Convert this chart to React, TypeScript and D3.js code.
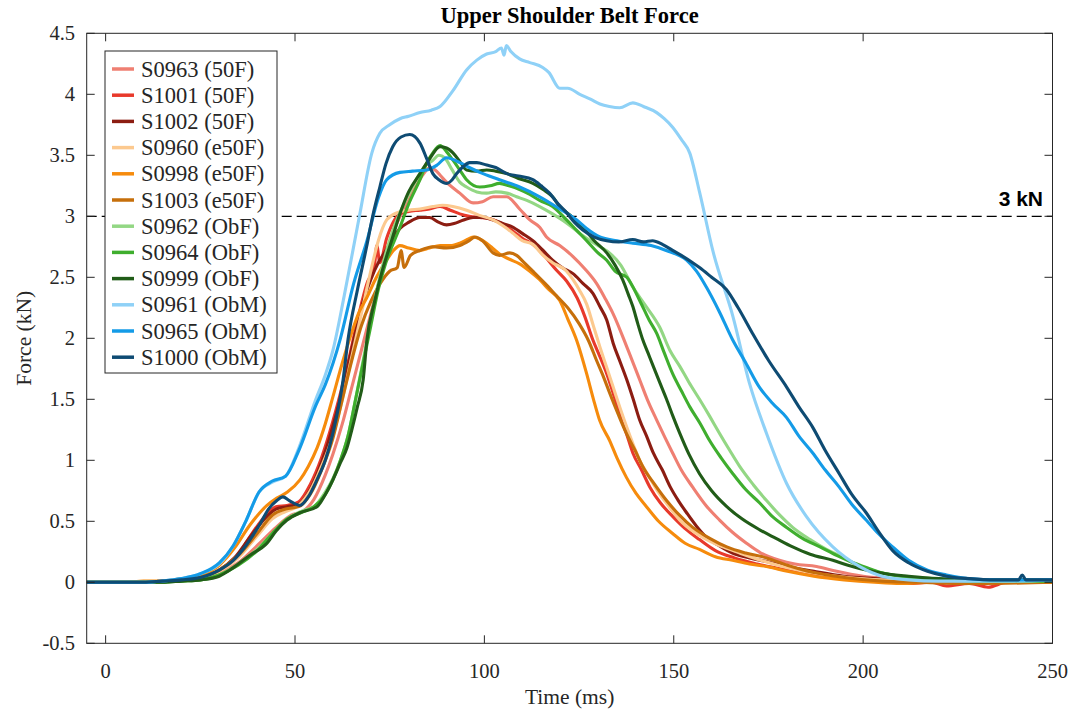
import React from "react";
import * as d3 from "d3";

type P = [number, number];

const S0963: P[] = [[-5,0],[0,0],[5,0],[10,0],[15,0.01],[20,0.02],[25,0.04],[30,0.08],[35,0.16],[40,0.3],[45,0.45],[49,0.55],[52,0.58],[55,0.68],[58,0.88],[60,1.05],[62.5,1.3],[65,1.6],[67.5,1.9],[70,2.2],[72.5,2.5],[75,2.78],[77,2.95],[79.5,3.1],[82,3.25],[84,3.35],[85.6,3.4],[87,3.38],[88.5,3.33],[90,3.28],[93.5,3.19],[97,3.11],[99.5,3.12],[102.3,3.16],[105.9,3.16],[109.3,3.06],[112,2.97],[114.6,2.91],[116.4,2.83],[119.9,2.76],[123.4,2.67],[126.5,2.57],[129.6,2.45],[132,2.32],[134,2.2],[137.6,1.93],[141,1.66],[143,1.5],[145.5,1.33],[149.7,1.06],[152,0.92],[155,0.78],[158.5,0.63],[162.1,0.51],[165.5,0.41],[169.2,0.32],[173,0.24],[177.9,0.18],[182,0.15],[187.7,0.13],[193,0.09],[200,0.05],[207,0.03],[215,0.01],[225,0],[235,0],[250,0.01]];
const S1001: P[] = [[-5,0],[0,0],[5,0],[10,0],[15,0.01],[20,0.02],[25,0.04],[30,0.1],[35,0.22],[38,0.37],[42.6,0.56],[45,0.62],[47.9,0.63],[51,0.66],[54,0.8],[57,1.02],[60,1.32],[62,1.55],[64,1.8],[66.5,2.15],[69,2.45],[71,2.6],[71.6,2.76],[72.4,2.62],[74.2,2.82],[77.7,3.02],[80,3.04],[83,3.05],[85.5,3.06],[88.3,3.08],[91,3.05],[93.5,3.02],[96,3],[98.8,2.99],[101.5,2.98],[104,2.95],[107.5,2.88],[110,2.82],[112.8,2.77],[116,2.67],[119,2.56],[121.7,2.47],[124.5,2.33],[126.5,2.18],[128.6,1.99],[130.5,1.85],[132.3,1.71],[134,1.55],[135.7,1.38],[137.5,1.22],[139.2,1.06],[141.5,0.92],[143.7,0.78],[146.5,0.65],[149.7,0.54],[153,0.44],[156.8,0.35],[161,0.26],[166,0.2],[172,0.15],[180,0.1],[188,0.06],[196,0.03],[205,0.01],[212,-0.01],[218,0],[222,-0.03],[228,-0.01],[233,-0.04],[238,0],[245,0],[250,0.01]];
const S1002: P[] = [[-5,0],[0,0],[5,0],[10,0],[15,0.01],[20,0.02],[25,0.04],[30,0.1],[34,0.2],[38.1,0.37],[42.6,0.54],[45,0.6],[47.9,0.62],[51,0.64],[54,0.76],[56,0.9],[58.4,1.11],[60,1.28],[61.8,1.49],[64,1.78],[66,2.05],[68,2.3],[70,2.48],[72,2.62],[74,2.72],[75.8,2.82],[77.7,2.9],[80,2.95],[83,2.99],[85.5,2.99],[88,2.95],[90,2.93],[92,2.94],[94.5,2.97],[97,2.99],[99.5,2.99],[102.3,2.97],[105,2.94],[107.6,2.91],[110,2.86],[112.8,2.8],[115.5,2.72],[118,2.64],[120.5,2.58],[123.4,2.53],[126,2.45],[128.6,2.37],[130.5,2.26],[132.3,2.15],[134,1.96],[135.8,1.81],[137.6,1.66],[139.3,1.5],[141,1.33],[142.8,1.2],[144.6,1.06],[147,0.92],[149.1,0.78],[151.2,0.67],[153.4,0.57],[156,0.46],[158.6,0.37],[162,0.3],[165.5,0.24],[170,0.2],[174.5,0.17],[180,0.13],[187,0.09],[195,0.05],[203,0.03],[212,0.01],[225,0],[250,0]];
const S0960: P[] = [[-5,0],[0,0],[5,0],[10,0],[15,0.01],[20,0.02],[25,0.04],[30,0.09],[35,0.2],[40,0.38],[44,0.52],[47.5,0.58],[51,0.63],[54,0.75],[57,0.95],[60,1.2],[62.5,1.5],[65,1.85],[67.5,2.2],[70,2.55],[72,2.8],[74.2,2.97],[77,3.03],[80,3.05],[83,3.06],[86.4,3.08],[89,3.09],[91.7,3.08],[95.3,3.05],[98.5,3.01],[102.3,2.97],[105,2.92],[107.6,2.86],[110,2.8],[112.8,2.77],[115.5,2.68],[118,2.62],[121.7,2.55],[123.4,2.48],[125,2.4],[127,2.28],[128.8,2.1],[130.5,1.93],[132.3,1.76],[134,1.6],[135.8,1.43],[137.6,1.27],[139.3,1.13],[141,1],[143.2,0.88],[145.5,0.76],[148.5,0.63],[151.6,0.51],[155,0.42],[158.7,0.35],[163,0.29],[167.4,0.24],[173,0.18],[180,0.12],[188,0.07],[196,0.04],[205,0.02],[215,0.01],[230,0],[250,0.01]];
const S0998: P[] = [[-5,0],[0,0],[5,0],[10,0.01],[15,0.01],[20,0.03],[25,0.06],[30,0.14],[34,0.28],[38.1,0.47],[42.6,0.63],[45.2,0.69],[48,0.74],[51.3,0.84],[53.5,0.95],[55.8,1.1],[58,1.3],[60,1.52],[62.5,1.8],[65,2.05],[67,2.22],[68.9,2.33],[71.5,2.5],[74.2,2.64],[76,2.72],[77.7,2.76],[80,2.74],[83,2.72],[85.5,2.74],[88.3,2.76],[91,2.76],[93.5,2.78],[95.5,2.81],[97,2.83],[99,2.81],[100.6,2.78],[102.5,2.73],[104,2.69],[106.5,2.65],[109.3,2.61],[112,2.55],[114.6,2.48],[117,2.4],[119.9,2.31],[122,2.16],[124.4,1.98],[127,1.71],[128.8,1.5],[130.4,1.33],[133.1,1.16],[135,1.02],[137.5,0.86],[140,0.73],[142.8,0.62],[146,0.5],[149.7,0.4],[153,0.32],[156.8,0.27],[161,0.21],[165.5,0.18],[170,0.15],[174.5,0.13],[180,0.09],[187,0.05],[195,0.02],[203,0],[210,-0.01],[218,0],[230,0],[250,0]];
const S1003: P[] = [[-5,0],[0,0],[5,0],[10,0],[15,0.01],[20,0.02],[25,0.04],[30,0.1],[35,0.22],[40,0.4],[44,0.55],[47.5,0.6],[51,0.62],[54,0.72],[57,0.92],[60,1.18],[62.5,1.5],[65,1.82],[67.5,2.1],[70,2.3],[72.5,2.45],[75,2.55],[77,2.58],[78,2.72],[78.8,2.58],[80.5,2.68],[83,2.72],[86.4,2.75],[90,2.74],[93.5,2.76],[96,2.8],[97.5,2.83],[99.5,2.8],[102.3,2.7],[104,2.68],[106.7,2.7],[108.5,2.68],[110.5,2.62],[112.8,2.55],[116,2.45],[119,2.35],[122,2.25],[125,2.12],[127.5,1.98],[129.6,1.82],[131.5,1.68],[133.1,1.55],[135.3,1.38],[137.5,1.22],[139.8,1.08],[141.8,0.95],[145,0.8],[148.1,0.67],[151.5,0.55],[155,0.45],[159.5,0.36],[164,0.29],[169,0.24],[174.5,0.2],[180,0.14],[187,0.08],[195,0.04],[205,0.01],[215,0],[230,-0.01],[250,0]];
const S0962: P[] = [[-5,0],[0,0],[5,0],[10,0],[15,0],[20,0.01],[25,0.02],[30,0.06],[35,0.15],[40,0.27],[44,0.4],[48,0.52],[51.5,0.58],[55,0.62],[58,0.74],[60,0.85],[62,1],[64,1.2],[66,1.5],[68,1.82],[70,2.15],[72,2.45],[74,2.7],[76,2.9],[78,3.05],[80,3.18],[82,3.3],[84,3.4],[86.4,3.46],[88,3.5],[89.5,3.48],[91.5,3.38],[93.5,3.28],[95.3,3.24],[98,3.2],[100.6,3.19],[103,3.2],[105.9,3.19],[108.5,3.16],[111.2,3.13],[114.6,3.08],[118,3.02],[121.5,2.95],[125.2,2.86],[128,2.8],[130.5,2.75],[133,2.7],[136,2.6],[139.2,2.42],[142.5,2.27],[146.3,2.09],[149,1.9],[151.6,1.77],[154,1.64],[156.8,1.5],[159.5,1.36],[162.1,1.22],[164.8,1.08],[167.4,0.95],[171,0.8],[174.5,0.67],[178,0.55],[181.4,0.45],[186,0.35],[190.3,0.27],[195,0.2],[199,0.13],[202,0.1],[206.1,0.07],[212,0.04],[220,0.02],[235,0.01],[250,0.01]];
const S0964: P[] = [[-5,0],[0,0],[5,0],[10,0],[15,0],[20,0.01],[25,0.02],[30,0.06],[35,0.14],[40,0.26],[44,0.4],[48,0.52],[51.5,0.57],[55,0.62],[58,0.72],[60,0.84],[62,1],[64,1.2],[66,1.5],[68,1.8],[70,2.1],[72,2.4],[74,2.62],[77.7,2.91],[80,3.1],[83,3.3],[85,3.45],[86.4,3.52],[88.3,3.58],[90,3.53],[91.7,3.46],[93.5,3.38],[95.3,3.3],[98.8,3.24],[101.5,3.25],[104,3.27],[106.5,3.25],[109.3,3.22],[112,3.18],[114.6,3.13],[118,3.08],[121.7,2.97],[124.5,2.88],[127,2.8],[130,2.7],[132.3,2.64],[134.5,2.55],[137.6,2.5],[141,2.31],[143.5,2.15],[145.5,2.04],[147.5,1.88],[149.7,1.71],[152,1.57],[154.2,1.44],[157,1.3],[159.5,1.16],[162.5,1.02],[165.6,0.89],[169,0.76],[172.7,0.65],[176,0.54],[179.8,0.45],[184,0.36],[188.6,0.29],[193,0.22],[197.4,0.16],[201,0.12],[204.5,0.08],[210,0.05],[218,0.03],[230,0.01],[250,0.01]];
const S0999: P[] = [[-5,0],[0,0],[5,0],[10,0],[15,0],[20,0.01],[25,0.02],[30,0.05],[33.7,0.12],[38,0.22],[42.6,0.32],[45,0.42],[47.9,0.51],[51.3,0.57],[55.8,0.62],[58,0.72],[60,0.84],[62,0.98],[63.7,1.1],[65,1.25],[66.4,1.43],[68,1.66],[69,1.99],[71,2.3],[73,2.55],[75.5,2.8],[77.7,3.02],[80,3.2],[83,3.35],[85.5,3.47],[88.3,3.57],[90,3.56],[91.7,3.52],[93.5,3.45],[95.3,3.38],[98,3.37],[100.6,3.38],[103,3.37],[105.9,3.35],[109,3.31],[112.8,3.27],[115.5,3.22],[118,3.16],[119.9,3.08],[123,3],[126,2.91],[129,2.8],[132.3,2.7],[134.5,2.6],[136.5,2.48],[138,2.36],[139.2,2.26],[140.5,2.12],[141.8,1.99],[143.2,1.88],[144.6,1.77],[146.4,1.63],[148.1,1.5],[149.8,1.36],[151.6,1.22],[154,1.05],[156.8,0.89],[160,0.75],[164,0.62],[168,0.52],[172.7,0.43],[177,0.36],[181.4,0.29],[186,0.23],[192,0.18],[196,0.14],[200.8,0.1],[206,0.07],[212,0.05],[220,0.03],[230,0.02],[240,0.02],[250,0.02]];
const S0961: P[] = [[-5,0],[0,0],[5,0],[10,0],[15,0.01],[20,0.03],[25,0.07],[30,0.15],[33.7,0.3],[37,0.5],[40.5,0.74],[44,0.82],[47.5,0.87],[51,1.1],[55.5,1.5],[58,1.7],[60,1.9],[63,2.35],[67,3],[70.3,3.52],[72.4,3.68],[75,3.75],[77.7,3.8],[80,3.82],[83,3.85],[86,3.87],[88.3,3.9],[91.7,4.03],[95.3,4.2],[98,4.28],[100.6,4.33],[103,4.35],[104.5,4.38],[105.2,4.32],[105.8,4.4],[107,4.35],[109.3,4.29],[112,4.26],[115.4,4.22],[117,4.18],[119.9,4.05],[122,4.05],[125.2,4],[128,3.96],[130.5,3.92],[133,3.9],[135.7,3.89],[139.2,3.93],[142,3.9],[145.5,3.85],[147.5,3.8],[149.7,3.73],[152,3.63],[154.2,3.52],[156.8,3.2],[160.3,2.72],[165.7,2.17],[170,1.63],[174.5,1.22],[179.8,0.81],[185,0.54],[192,0.29],[199,0.13],[205,0.05],[212,0.02],[220,0.01],[230,0.01],[240,0.01],[250,0.02]];
const S0965: P[] = [[-5,0],[0,0],[5,0],[10,0],[15,0.01],[20,0.03],[25,0.07],[30,0.16],[33.7,0.3],[37,0.5],[40.5,0.74],[44,0.83],[47.5,0.87],[51,1.08],[55.5,1.45],[58,1.62],[62,2],[65.5,2.45],[69,2.8],[72,3.15],[74.2,3.3],[77.7,3.36],[81,3.37],[84.8,3.38],[87.5,3.42],[90,3.48],[93.5,3.44],[96,3.4],[98.8,3.36],[104,3.3],[109.3,3.24],[114.6,3.16],[119.9,3.06],[124.4,2.97],[127,2.9],[130.5,2.83],[135,2.8],[139.2,2.78],[144,2.76],[148,2.72],[153.4,2.64],[156,2.55],[158.6,2.42],[162,2.22],[165.5,1.99],[169,1.8],[172.6,1.6],[176,1.47],[179.8,1.35],[183,1.2],[186.7,1.06],[190,0.92],[193.7,0.78],[197,0.64],[200.8,0.51],[204,0.4],[207.8,0.29],[212,0.18],[217,0.1],[222,0.06],[228,0.03],[235,0.02],[242,0.02],[250,0.02]];
const S1000: P[] = [[-5,0],[0,0],[5,0],[10,0],[15,0.01],[20,0.02],[25,0.04],[30,0.1],[33.7,0.18],[37,0.3],[40.8,0.48],[43,0.6],[45.2,0.67],[46.8,0.7],[48.5,0.67],[51.3,0.63],[53.5,0.7],[55.8,0.84],[58,1],[60,1.22],[62.7,1.66],[64,1.99],[66.5,2.4],[68.9,2.75],[70.5,3],[72.4,3.24],[74,3.43],[75.8,3.57],[78,3.65],[80.3,3.67],[83,3.6],[84.8,3.47],[86.4,3.35],[88,3.3],[90.1,3.27],[91.5,3.3],[92.7,3.35],[94.5,3.41],[96.1,3.44],[98,3.44],[100.6,3.42],[103,3.4],[105.9,3.35],[109,3.33],[112.8,3.3],[115,3.25],[117.2,3.19],[119.5,3.1],[121.7,3.03],[123.8,2.95],[125.9,2.89],[129,2.83],[132.3,2.8],[135.5,2.79],[139.2,2.81],[142,2.79],[144.4,2.8],[147,2.77],[149.7,2.72],[152.5,2.67],[155,2.62],[156.8,2.58],[160,2.5],[163.9,2.4],[167,2.25],[170.8,2.04],[175,1.82],[179.8,1.6],[183,1.44],[186.7,1.27],[190,1.08],[193.7,0.89],[197,0.72],[200.8,0.57],[204,0.42],[207.8,0.26],[212,0.16],[217,0.09],[222,0.05],[228,0.03],[235,0.02],[241,0.02],[242,0.06],[243,0.02],[250,0.02]];

const seriesNames = ["S0963 (50F)","S1001 (50F)","S1002 (50F)","S0960 (e50F)","S0998 (e50F)","S1003 (e50F)","S0962 (ObF)","S0964 (ObF)","S0999 (ObF)","S0961 (ObM)","S0965 (ObM)","S1000 (ObM)"];
const seriesData: P[][] = [S0963,S1001,S1002,S0960,S0998,S1003,S0962,S0964,S0999,S0961,S0965,S1000];
const seriesColors = ["#ef7f72","#e8392b","#8c1d12","#fcc98f","#f68b0c","#c66f0b","#93d784","#3fae2e","#215c18","#8fd1f7","#149be7","#0e4b73"];

const xTicks = [0, 50, 100, 150, 200, 250];
const yTicks = [-0.5, 0, 0.5, 1, 1.5, 2, 2.5, 3, 3.5, 4, 4.5];
const threshold = 3;
const thresholdLabel = "3 kN";

const W = 1075, H = 713;
const L = 86.7, R = 1052.5, T = 33.3, B = 643.3;

export default function App() {
  const x = d3.scaleLinear().domain([-5, 250]).range([L, R]);
  const y = d3.scaleLinear().domain([-0.5, 4.5]).range([B, T]);
  const line = d3.line<P>().x(d => x(d[0])).y(d => y(d[1])).curve(d3.curveMonotoneX);
  const serif = "'Liberation Serif', 'Times New Roman', serif";
  const axisColor = "#262626";
  const tl = 8;
  const legX = 105, legY = 51, legW = 172, legRow = 26.2;
  return (
    <svg width={W} height={H} style={{ position: "absolute", left: 0, top: 0, background: "#fff" }}>
      <rect x={0} y={0} width={W} height={H} fill="#fff" />
      <defs>
        <clipPath id="plot"><rect x={L} y={T} width={R - L} height={B - T} /></clipPath>
      </defs>
      <g clipPath="url(#plot)">
        <line x1={L} x2={R} y1={y(threshold)} y2={y(threshold)} stroke="#000" strokeWidth={1.3} strokeDasharray="10,5" />
        {seriesData.map((d, i) => (
          <path key={i} d={line(d) || ""} fill="none" stroke={seriesColors[i]} strokeWidth={3.1} strokeLinejoin="round" />
        ))}
      </g>
      <text x={1043} y={206} textAnchor="end" fontFamily="'Liberation Sans', Arial, sans-serif" fontWeight="bold" fontSize={21}>{thresholdLabel}</text>
      <rect x={L} y={T} width={R - L} height={B - T} fill="none" stroke={axisColor} strokeWidth={1} />
      {xTicks.map(t => (
        <g key={"x" + t}>
          <line x1={x(t)} x2={x(t)} y1={B} y2={B - tl} stroke={axisColor} />
          <line x1={x(t)} x2={x(t)} y1={T} y2={T + tl} stroke={axisColor} />
          <text x={x(t)} y={678} textAnchor="middle" fontFamily={serif} fontSize={20.5} fill="#262626">{t}</text>
        </g>
      ))}
      {yTicks.map(t => (
        <g key={"y" + t}>
          <line x1={L} x2={L + tl} y1={y(t)} y2={y(t)} stroke={axisColor} />
          <line x1={R} x2={R - tl} y1={y(t)} y2={y(t)} stroke={axisColor} />
          <text x={75} y={y(t) + 7} textAnchor="end" fontFamily={serif} fontSize={20.5} fill="#262626">{t}</text>
        </g>
      ))}
      <text x={(L + R) / 2} y={23} textAnchor="middle" fontFamily={serif} fontWeight="bold" fontSize={22.5} fill="#000">Upper Shoulder Belt Force</text>
      <text x={(L + R) / 2} y={704} textAnchor="middle" fontFamily={serif} fontSize={21.5} fill="#262626">Time (ms)</text>
      <text transform={`translate(31,${(T + B) / 2}) rotate(-90)`} textAnchor="middle" fontFamily={serif} fontSize={21.5} fill="#262626">Force (kN)</text>
      <rect x={legX} y={legY} width={legW} height={322} fill="#fff" stroke={axisColor} strokeWidth={1} />
      {seriesNames.map((n, i) => {
        const cy = 69 + i * legRow;
        return (
          <g key={n}>
            <line x1={112} x2={134} y1={cy} y2={cy} stroke={seriesColors[i]} strokeWidth={3.5} />
            <text x={141} y={cy + 7.5} fontFamily={serif} fontSize={22.5} fill="#262626">{n}</text>
          </g>
        );
      })}
    </svg>
  );
}
